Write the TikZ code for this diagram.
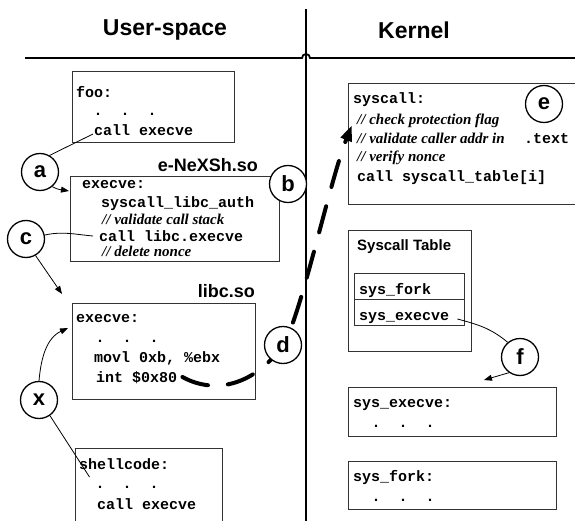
\documentclass[tikz,border=0pt]{standalone}
\usepackage{fontspec}
\setmainfont{Liberation Sans}
\newfontfamily\codefont{Liberation Mono}
\newfontfamily\cmtfont{Liberation Serif}
\usetikzlibrary{arrows.meta,calc}
\tikzset{
 boxst/.style={draw=black!80, line width=0.9pt, inner sep=0pt, anchor=north west},
 code/.style={font=\codefont\bfseries\fontsize{15}{15}\selectfont, inner sep=0pt, anchor=base west},
 cmt/.style={font=\cmtfont\bfseries\itshape\fontsize{15}{15}\selectfont, inner sep=0pt, anchor=base west},
 ttl/.style={font=\bfseries\fontsize{23}{23}\selectfont, inner sep=0pt},
 lbl/.style={font=\bfseries\fontsize{18}{18}\selectfont, inner sep=0pt, anchor=base east},
 tlbl/.style={font=\bfseries\fontsize{15}{15}\selectfont, inner sep=0pt, anchor=base west},
 circ/.style={draw, circle, line width=1.3pt, fill=white, minimum size=37pt, inner sep=0pt, font=\bfseries\fontsize{22}{22}\selectfont},
 conn/.style={line width=0.8pt},
 arr/.style={conn, -{Triangle[length=8pt,width=6pt]}},
 sepline/.style={line width=1.8pt},
}
\begin{document}
\begin{tikzpicture}[x=1pt,y=1pt]
\useasboundingbox (0,0) rectangle (575,-521);
% headers
\node[ttl] (us) at (165,-30) {User-space};
\node[ttl] (kn) at (414,-30) {Kernel};
\coordinate (hl) at (25,-58); \coordinate (hr) at (576,-58);
\coordinate (vt) at (306,-9); \coordinate (vb) at (306,-522);
\draw[sepline] (hl) -- (302,-58) arc (180:0:4) -- (hr);
\draw[sepline] (vt) -- (vb);

% boxes
\node[boxst, minimum width=162pt, minimum height=71pt] (foo) at (72,-71) {};
\node[boxst, minimum width=209pt, minimum height=85pt] (enx) at (70,-176) {};
\node[boxst, minimum width=183pt, minimum height=96pt] (libc) at (72,-303) {};
\node[boxst, minimum width=147pt, minimum height=80pt] (shell) at (75,-448) {};
\node[boxst, minimum width=232pt, minimum height=121pt] (sysc) at (348,-83) {};
\node[boxst, minimum width=123pt, minimum height=121pt] (stab) at (348,-230) {};
\node[boxst, minimum width=110pt, minimum height=26pt] (tab1) at (354,-273) {};
\node[boxst, minimum width=110pt, minimum height=26pt] (tab2) at (354,-299) {};
\node[boxst, minimum width=208pt, minimum height=49pt] (sexe) at (348,-387) {};
\node[boxst, minimum width=208pt, minimum height=48pt] (sfork) at (348,-461) {};

% foo
\node[code] (fooL1) at (76,-98) {foo:};
\node[code] (fooL2) at (93.5,-116) {.\ \ .\ \ .};
\node[code] (fooL3) at (94,-136) {call execve};
% e-NeXSh
\node[lbl] (enxlbl) at (258,-172) {e-NeXSh.so};
\node[code] (enxL1) at (82,-189) {execve:};
\node[code] (enxL2) at (101,-208) {syscall\_libc\_auth};
\node[cmt] (enxL3) at (102,-225) {// validate call stack};
\node[code] (enxL4) at (99,-241) {call libc.execve};
\node[cmt] (enxL5) at (102,-257) {// delete nonce};
% libc
\node[lbl] (libclbl) at (255,-297) {libc.so};
\node[code] (libcL1) at (76,-322) {execve:};
\node[code] (libcL2) at (95.5,-342) {.\ \ .\ \ .};
\node[code] (libcL3) at (94,-362) {movl 0xb, \%ebx};
\node[code] (libcL4) at (96,-382) {int \$0x80};
% shellcode
\node[code] (shL1) at (79,-469) {shellcode:};
\node[code] (shL2) at (95.5,-488) {.\ \ .\ \ .};
\node[code] (shL3) at (97,-509) {call execve};
% syscall
\node[code] (scL1) at (353,-104) {syscall:};
\node[cmt] (scL2) at (357,-125) {// check protection flag};
\node[cmt] (scL3) at (357,-144) {// validate caller addr in};
\node[code] (scL3b) at (524,-144) {.text};
\node[cmt] (scL4) at (357,-162) {// verify nonce};
\node[code] (scL5) at (357,-182) {call syscall\_table[i]};
% syscall table
\node[tlbl] (stlbl) at (357,-251) {Syscall Table};
\node[code] (st1) at (359,-294) {sys\_fork};
\node[code] (st2) at (359,-320) {sys\_execve};
% targets
\node[code] (seL1) at (353,-407) {sys\_execve:};
\node[code] (seL2) at (371.5,-427) {.\ \ .\ \ .};
\node[code] (sfL1) at (353,-481) {sys\_fork:};
\node[code] (sfL2) at (371.5,-501) {.\ \ .\ \ .};

% circles
\coordinate (pd) at (283,-345);
\node[circ] (ca) at (40,-172) {a};
\node[circ] (cb) at (288,-184) {b};
\node[circ] (cc) at (26,-239) {c};
\node[circ] (cx) at (39,-400) {x};
\node[circ] (ce) at (544,-104) {e};
\node[circ] (cf) at (520,-357) {f};

% dashed syscall path (drawn under d)
\draw[line width=4pt, dash pattern=on 27pt off 20pt, line cap=round, -{Triangle[length=16pt,width=11pt]}]
  ($(libcL4.base east)+(5,5)$) .. controls (215,-395) and (255,-385) .. (pd)
  .. controls (300,-320) and (330,-180) .. ($(sysc.north west)+(4,-42)$);
\node[circ] (cd) at (pd) {d};

% connectors
\draw[conn] ($(fooL3.base west)+(-1,2)$) -- (ca.60);
\draw[arr] (ca.-50) to[out=-30,in=170] ($(enx.north west)+(-1,-15)$);
\draw[conn] (cc.12) to[out=12,in=175] ($(enxL4.base west)+(-6,5)$);
\draw[arr] (cc.-60) -- ($(libc.north west)+(-10,9)$);
\draw[arr] (cx.north) to[out=85,in=205] ($(libc.north west)+(-4,-25)$);
\draw[conn] (cx.-55) -- ($(shL2.base west)+(-6,11)$);
\draw[conn] ($(st2.base east)+(8,1)$) to[out=-15,in=140] (cf.130);
\draw[arr] (cf.-125) -- ($(sexe.north west)+(136,7)$);
\end{tikzpicture}
\end{document}
